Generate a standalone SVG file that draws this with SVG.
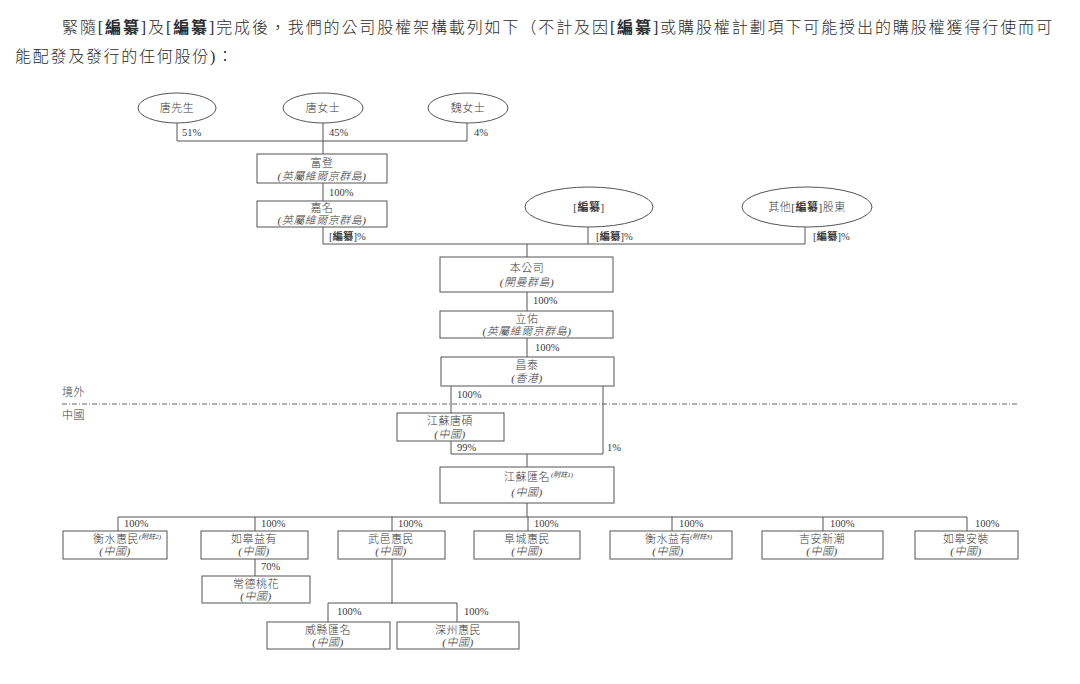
<svg xmlns="http://www.w3.org/2000/svg" width="1080" height="684" viewBox="0 0 1080 684">
<style>
.bg{fill:#fff}
.box{fill:#fff;stroke:#555;stroke-width:1}
.ln{fill:none;stroke:#555;stroke-width:1}
.dash{fill:none;stroke:#666;stroke-width:1;stroke-dasharray:5 2 1 2}
text{font-family:"Liberation Serif","Noto Sans CJK TC",serif;fill:#3a3a3a}
.t{font-size:11px;text-anchor:middle;letter-spacing:0.5px;font-weight:300}
.it{font-style:italic}
.p{font-size:10.5px}
.sup{font-size:7px;font-style:italic}
.hd{font-size:16px;fill:#2a2a2a;font-weight:300}
.b{font-weight:bold}
</style>
<rect class="bg" x="0" y="0" width="1080" height="684"/>
<g id="heading">
<text class="hd" x="62" y="33" textLength="990" lengthAdjust="spacing">緊隨[<tspan class="b">編纂</tspan>]及[<tspan class="b">編纂</tspan>]完成後，我們的公司股權架構載列如下（不計及因[<tspan class="b">編纂</tspan>]或購股權計劃項下可能授出的購股權獲得行使而可</text>
<text class="hd" x="15" y="62" textLength="218" lengthAdjust="spacing">能配發及發行的任何股份)：</text>
</g>
<g id="connectors">
<path class="ln" d="M177 123V141H467V123M323 123V154"/>
<path class="ln" d="M323 183V201M323 227V244H805V227M588 227V244M527 244V257"/>
<path class="ln" d="M527 292V311M527 338V357"/>
<path class="ln" d="M451 386V413M451 441V454H603V386M527 454V467"/>
<path class="ln" d="M527 503V517M118 531V517H967V531M255 517V531M392 517V531M528 517V531M672 517V531M823 517V531"/>
<path class="ln" d="M255 559V576M392 559V603M328 622V603H457V622"/>
<path class="dash" d="M62 404H1018"/>
<text class="p" x="182" y="136">51%</text>
<text class="p" x="329" y="136">45%</text>
<text class="p" x="474" y="136">4%</text>
<text class="p" x="329" y="196">100%</text>
<text class="p" x="329" y="240">[<tspan class="b">編纂</tspan>]%</text>
<text class="p" x="596" y="240">[<tspan class="b">編纂</tspan>]%</text>
<text class="p" x="813" y="240">[<tspan class="b">編纂</tspan>]%</text>
<text class="p" x="533" y="304">100%</text>
<text class="p" x="535" y="351">100%</text>
<text class="p" x="457" y="398">100%</text>
<text class="p" x="457" y="451">99%</text>
<text class="p" x="607" y="451">1%</text>
<text class="p" x="124" y="527">100%</text>
<text class="p" x="261" y="527">100%</text>
<text class="p" x="398" y="527">100%</text>
<text class="p" x="534" y="527">100%</text>
<text class="p" x="679" y="527">100%</text>
<text class="p" x="830" y="527">100%</text>
<text class="p" x="975" y="527">100%</text>
<text class="p" x="261" y="570">70%</text>
<text class="p" x="337" y="615">100%</text>
<text class="p" x="464" y="615">100%</text>
</g>
<g id="region-labels">
<text class="t" x="62" y="396" style="text-anchor:start">境外</text>
<text class="t" x="62" y="419" style="text-anchor:start">中國</text>
</g>
<g id="n-tang-sir"><ellipse class="box" cx="177" cy="108" rx="39" ry="15"/><text class="t" x="177" y="112">唐先生</text></g>
<g id="n-tang-ms"><ellipse class="box" cx="323" cy="108" rx="40" ry="15"/><text class="t" x="323" y="112">唐女士</text></g>
<g id="n-wei-ms"><ellipse class="box" cx="468" cy="108" rx="40" ry="15"/><text class="t" x="468" y="112">魏女士</text></g>
<g id="n-fudeng"><rect class="box" x="257" y="154" width="130" height="29"/><text class="t" x="322" y="167">富登</text><text class="t it" x="322" y="180">(英屬維爾京群島)</text></g>
<g id="n-jiaming"><rect class="box" x="257" y="201" width="130" height="26"/><text class="t" x="322" y="212">嘉名</text><text class="t it" x="322" y="224">(英屬維爾京群島)</text></g>
<g id="n-redacted"><ellipse class="box" cx="589" cy="207" rx="64" ry="20"/><text class="t" x="589" y="211">[<tspan class="b">編纂</tspan>]</text></g>
<g id="n-other"><ellipse class="box" cx="807" cy="207" rx="65" ry="20"/><text class="t" x="807" y="211">其他[<tspan class="b">編纂</tspan>]股東</text></g>
<g id="n-company"><rect class="box" x="440" y="257" width="173" height="35"/><text class="t" x="527" y="272">本公司</text><text class="t it" x="527" y="286">(開曼群島)</text></g>
<g id="n-liyou"><rect class="box" x="440" y="311" width="173" height="27"/><text class="t" x="527" y="323">立佑</text><text class="t it" x="527" y="335">(英屬維爾京群島)</text></g>
<g id="n-changtai"><rect class="box" x="441" y="357" width="173" height="29"/><text class="t" x="527" y="369">昌泰</text><text class="t it" x="527" y="382">(香港)</text></g>
<g id="n-tangshuo"><rect class="box" x="397" y="413" width="107" height="28"/><text class="t" x="450" y="425">江蘇唐碩</text><text class="t it" x="450" y="438">(中國)</text></g>
<g id="n-huiming"><rect class="box" x="440" y="467" width="174" height="36"/><text class="t" x="527" y="481">江蘇匯名</text><text class="sup" x="551" y="477">(附註1)</text><text class="t it" x="527" y="496">(中國)</text></g>
<g id="n-hs-huimin"><rect class="box" x="63" y="531" width="104" height="28"/><text class="t" x="116" y="543">衡水惠民</text><text class="sup" x="139" y="539">(附註2)</text><text class="t it" x="115" y="555">(中國)</text></g>
<g id="n-rg-yiyou"><rect class="box" x="201" y="531" width="107" height="28"/><text class="t" x="254" y="543">如皋益有</text><text class="t it" x="254" y="555">(中國)</text></g>
<g id="n-wy-huimin"><rect class="box" x="338" y="531" width="107" height="28"/><text class="t" x="391" y="543">武邑惠民</text><text class="t it" x="391" y="555">(中國)</text></g>
<g id="n-fc-huimin"><rect class="box" x="474" y="531" width="106" height="28"/><text class="t" x="527" y="543">阜城惠民</text><text class="t it" x="527" y="555">(中國)</text></g>
<g id="n-hs-yiyou"><rect class="box" x="610" y="531" width="122" height="28"/><text class="t" x="668" y="543">衡水益有</text><text class="sup" x="690" y="539">(附註3)</text><text class="t it" x="668" y="555">(中國)</text></g>
<g id="n-ja-xinchao"><rect class="box" x="762" y="531" width="121" height="28"/><text class="t" x="822" y="543">吉安新潮</text><text class="t it" x="822" y="555">(中國)</text></g>
<g id="n-rg-anzhuang"><rect class="box" x="915" y="531" width="103" height="28"/><text class="t" x="966" y="543">如皋安裝</text><text class="t it" x="966" y="555">(中國)</text></g>
<g id="n-cd-taohua"><rect class="box" x="202" y="576" width="108" height="27"/><text class="t" x="256" y="588">常德桃花</text><text class="t it" x="256" y="600">(中國)</text></g>
<g id="n-wx-huiming"><rect class="box" x="267" y="622" width="123" height="27"/><text class="t" x="328" y="634">威縣匯名</text><text class="t it" x="328" y="646">(中國)</text></g>
<g id="n-sz-huimin"><rect class="box" x="397" y="622" width="122" height="27"/><text class="t" x="458" y="634">深州惠民</text><text class="t it" x="458" y="646">(中國)</text></g>
</svg>
